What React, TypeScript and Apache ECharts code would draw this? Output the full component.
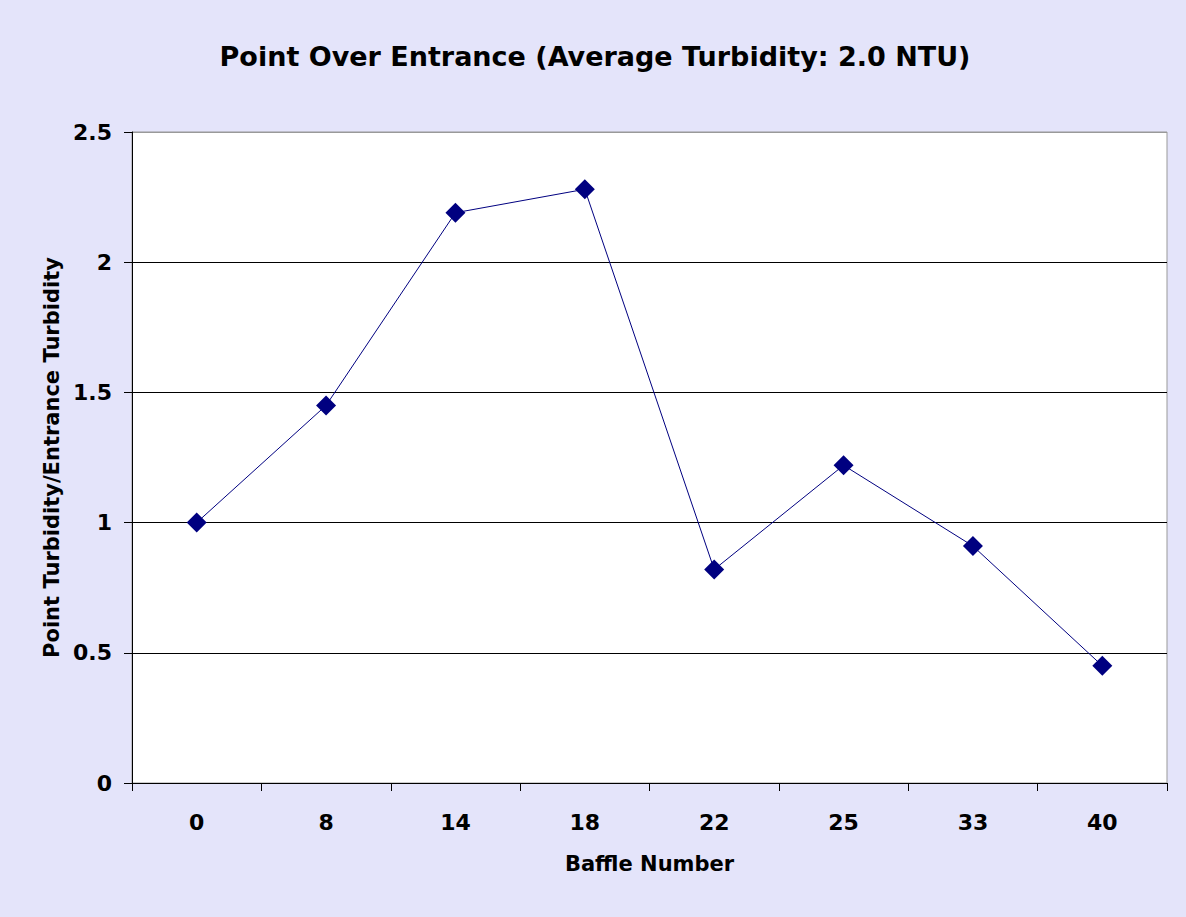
import React, { useEffect, useRef } from "react";
import * as echarts from "echarts";

const categories = ["0", "8", "14", "18", "22", "25", "33", "40"];
const ratioValues = [1.0, 1.45, 2.19, 2.28, 0.82, 1.22, 0.91, 0.45];

export default function App() {
  const ref = useRef<HTMLDivElement>(null);
  useEffect(() => {
    document.body.style.margin = "0";
    const chart = echarts.init(ref.current!, null, { renderer: "svg" });
    const font = "DejaVu Sans, Arial, sans-serif";
    chart.setOption({
      animation: false,
      backgroundColor: "#E4E4FA",
      title: {
        text: "Point Over Entrance (Average Turbidity: 2.0 NTU)",
        left: 590,
        top: 38,
        textAlign: "center",
        textStyle: { fontFamily: font, fontWeight: "bold", fontSize: 27, color: "#000" },
      },
      grid: {
        left: 132,
        top: 132,
        right: 19,
        bottom: 134,
        show: true,
        backgroundColor: "#fff",
        borderColor: "#999",
        borderWidth: 1,
      },
      xAxis: {
        type: "category",
        data: categories,
        boundaryGap: true,
        name: "Baffle Number",
        nameLocation: "middle",
        nameGap: 70,
        nameTextStyle: { fontFamily: font, fontWeight: "bold", fontSize: 21, color: "#000" },
        axisLine: { lineStyle: { color: "#000", width: 1 } },
        axisTick: { show: true, length: 8, lineStyle: { color: "#000" } },
        axisLabel: { fontFamily: font, fontWeight: "bold", fontSize: 22, color: "#000", margin: 28 },
        splitLine: { show: false },
      },
      yAxis: {
        type: "value",
        min: 0,
        max: 2.5,
        interval: 0.5,
        name: "Point Turbidity/Entrance Turbidity",
        nameLocation: "middle",
        nameGap: 70,
        nameTextStyle: { fontFamily: font, fontWeight: "bold", fontSize: 21, color: "#000" },
        axisLine: { show: true, lineStyle: { color: "#000", width: 1 } },
        axisTick: { show: true, length: 8, lineStyle: { color: "#000" } },
        axisLabel: { fontFamily: font, fontWeight: "bold", fontSize: 22, color: "#000", margin: 20 },
        splitLine: { show: true, lineStyle: { color: ["#000", "#000", "#000", "#000", "#000", "#999"], width: 1 } },
      },
      series: [
        {
          type: "line",
          data: ratioValues,
          symbol: "diamond",
          symbolSize: 20,
          lineStyle: { color: "#000080", width: 1 },
          itemStyle: { color: "#000080" },
        },
      ],
    });
    return () => chart.dispose();
  }, []);
  return <div ref={ref} style={{ width: 1186, height: 917 }} />;
}
